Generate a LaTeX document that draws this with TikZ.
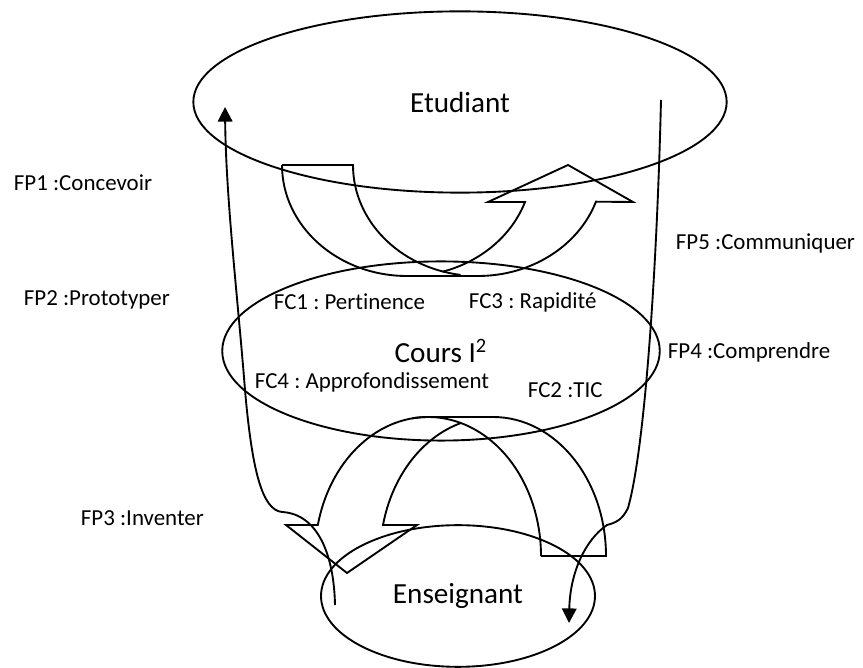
\documentclass[tikz,border=0pt]{standalone}
\usepackage{fontspec}
\setmainfont{Carlito}[Ligatures=NoCommon]
\usetikzlibrary{arrows.meta, positioning, shapes.geometric}
\frenchspacing

\begin{document}
\begin{tikzpicture}[
    x=0.48pt, y=0.48pt,
    line width=0.9pt,
    actor node/.style={ellipse, draw, inner sep=0pt, font=\fontsize{14}{17}\selectfont},
    label node/.style={anchor=west, inner sep=0pt, font=\fontsize{11}{13}\selectfont},
    fp line/.style={-{Triangle[length=7pt, width=7pt]}}
]
    \useasboundingbox (0,0) rectangle (863,668);

    % Actors
    \node[actor node, minimum width=256pt, minimum height=87pt] (Etudiant) at (460,566) {Etudiant};
    \node[actor node, minimum width=210pt, minimum height=86pt] (Cours) at (441,317) {Cours I\textsuperscript{2}};
    \node[actor node, minimum width=131.5pt, minimum height=68pt] (Enseignant) at (458,72) {Enseignant};

    % Principal functions
    \node[label node] (FP1) at (13,485) {FP1 :Concevoir};
    \node[label node] (FP2) at (23,368) {FP2 :Prototyper};
    \node[label node] (FP3) at (80,150) {FP3 :Inventer};
    \node[label node] (FP4) at (667,316) {FP4 :Comprendre};
    \node[label node] (FP5) at (675,425) {FP5 :Communiquer};

    % Constraint functions
    \node[label node] (FC1) at (273,366) {FC1 : Pertinence};
    \node[label node] (FC3) at (468,366) {FC3 : Rapidité};
    \node[label node] (FC4) at (254,286) {FC4 : Approfondissement};
    \node[label node] (FC2) at (527,278) {FC2 :TIC};

    % Links between teacher and student
    \coordinate (up start) at (335,63);
    \coordinate (up end) at (225,561);
    \coordinate (down start) at (661,568);
    \coordinate (down end) at (569,45);
    \draw[fp line] (up start) .. controls (334,113) and (318,154) .. (282,156)
        .. controls (262,158) and (252,198) .. (245,278)
        .. controls (238,368) and (226,468) .. (up end);
    \draw[fp line] (down start) .. controls (657,400) and (645,220) .. (628,160)
        .. controls (622,147) and (614,145) .. (607,143)
        .. controls (585,128) and (570,95) .. (down end);

    % Curved arrow above the course
    \draw (282,503) arc[start angle=180, end angle=270, x radius=125, y radius=111]
        -- (478,392) arc[start angle=270, end angle=340.7, x radius=125, y radius=111]
        -- (633,466) -- (568,503) -- (488,466) -- (525,466)
        arc[start angle=-19.3, end angle=-73.5, x radius=125, y radius=111];
    \draw (282,503) -- (353,503) arc[start angle=180, end angle=262, x radius=125, y radius=111];

    % Curved arrow below the course
    \draw (541,112) -- (606,112) arc[start angle=0, end angle=90, x radius=113, y radius=139]
        -- (428,251) arc[start angle=90, end angle=167.1, x radius=113, y radius=139]
        -- (286,143) -- (347,95) -- (417,143) -- (383,143)
        arc[start angle=167, end angle=106.7, x radius=113, y radius=139];
    \draw (541,112) arc[start angle=0, end angle=98, x radius=113, y radius=139];
\end{tikzpicture}
\end{document}
